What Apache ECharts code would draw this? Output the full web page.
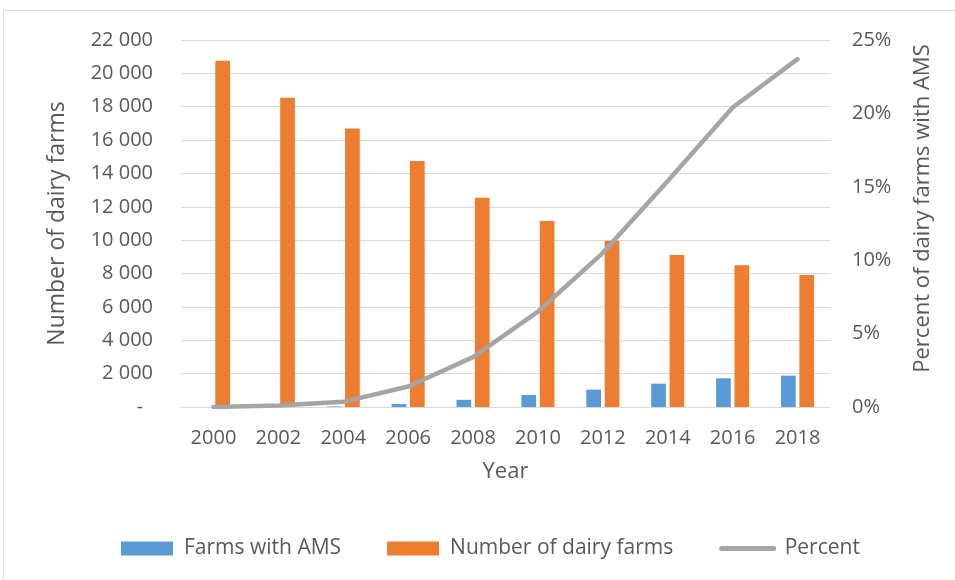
<!DOCTYPE html>
<html>
<head>
<meta charset="utf-8">
<script src="https://cdn.jsdelivr.net/npm/echarts@6/dist/echarts.min.js"></script>
<style>
  html, body { margin: 0; padding: 0; background: #fff; }
  #main { width: 955px; height: 580px; }
</style>
</head>
<body>
<div id="main"></div>
<script>
// values
var years = ['2000', '2002', '2004', '2006', '2008', '2010', '2012', '2014', '2016', '2018'];
var farmsWithAms = [0, 10, 30, 180, 430, 720, 1040, 1400, 1720, 1880];
var dairyFarms = [20750, 18540, 16700, 14750, 12550, 11150, 9970, 9110, 8500, 7910];
var percentAms = [0, 0.1, 0.35, 1.4, 3.4, 6.5, 10.5, 15.4, 20.4, 23.7];

var textColor = '#595959';
var font = 'Open Sans';

function thousands(v) {
    if (v === 0) return '{z|-}';
    return String(v).replace(/\B(?=(\d{3})+(?!\d))/g, ' ');
}

var myChart = echarts.init(document.getElementById('main'));
var option = {
    animation: false,
    textStyle: { fontFamily: font, color: textColor },
    graphic: [{
        type: 'rect',
        shape: { x: 3.5, y: 10.5, width: 1200, height: 1000 },
        style: { fill: 'none', stroke: '#d9d9d9', lineWidth: 1 },
        silent: true
    }],
    grid: { left: 181, right: 125, top: 40, bottom: 173 },
    legend: {
        left: 121,
        top: 538,
        padding: 0,
        itemWidth: 52,
        itemHeight: 14,
        itemGap: 46,
        textStyle: { fontFamily: font, fontSize: 21, color: textColor, padding: [0, 0, 0, 6] },
        data: [
            { name: 'Farms with AMS', icon: 'rect' },
            { name: 'Number of dairy farms', icon: 'rect' },
            { name: 'Percent', itemStyle: { opacity: 0 }, lineStyle: { width: 5, cap: 'round' } }
        ]
    },
    xAxis: {
        type: 'category',
        data: years,
        name: 'Year',
        nameLocation: 'middle',
        nameGap: 54,
        nameTextStyle: { fontFamily: font, fontSize: 22, color: textColor },
        axisLine: { lineStyle: { color: '#d9d9d9' } },
        axisTick: { show: false },
        axisLabel: { fontFamily: font, fontSize: 20, color: textColor, margin: 21 }
    },
    yAxis: [{
        type: 'value',
        min: 0,
        max: 22000,
        interval: 2000,
        name: 'Number of dairy farms',
        nameLocation: 'middle',
        nameGap: 112,
        nameTextStyle: { fontFamily: font, fontSize: 23, color: textColor },
        axisLine: { show: false },
        axisTick: { show: false },
        splitLine: { lineStyle: { color: '#d9d9d9', width: 1 } },
        axisLabel: {
            fontFamily: font, fontSize: 20, color: textColor, margin: 28,
            formatter: thousands,
            rich: { z: { fontFamily: font, fontSize: 20, color: textColor, padding: [0, 10, 0, 0] } }
        }
    }, {
        type: 'value',
        min: 0,
        max: 25,
        interval: 5,
        name: 'Percent of dairy farms with AMS',
        nameLocation: 'middle',
        nameGap: 82,
        nameTextStyle: { fontFamily: font, fontSize: 22, color: textColor, padding: [0, 0, 0, 30] },
        axisLine: { show: false },
        axisTick: { show: false },
        splitLine: { show: false },
        axisLabel: { fontFamily: font, fontSize: 20, color: textColor, margin: 22, formatter: '{value}%' }
    }],
    series: [{
        name: 'Farms with AMS',
        type: 'bar',
        data: farmsWithAms,
        barWidth: 14.7,
        barGap: '25%',
        itemStyle: { color: '#5B9BD5' }
    }, {
        name: 'Number of dairy farms',
        type: 'bar',
        data: dairyFarms,
        barWidth: 14.7,
        itemStyle: { color: '#ED7D31' }
    }, {
        name: 'Percent',
        type: 'line',
        yAxisIndex: 1,
        data: percentAms,
        symbol: 'none',
        lineStyle: { color: '#A5A5A5', width: 4.5, cap: 'round', join: 'round' },
        itemStyle: { color: '#A5A5A5' }
    }]
};
myChart.setOption(option);
</script>
</body>
</html>
